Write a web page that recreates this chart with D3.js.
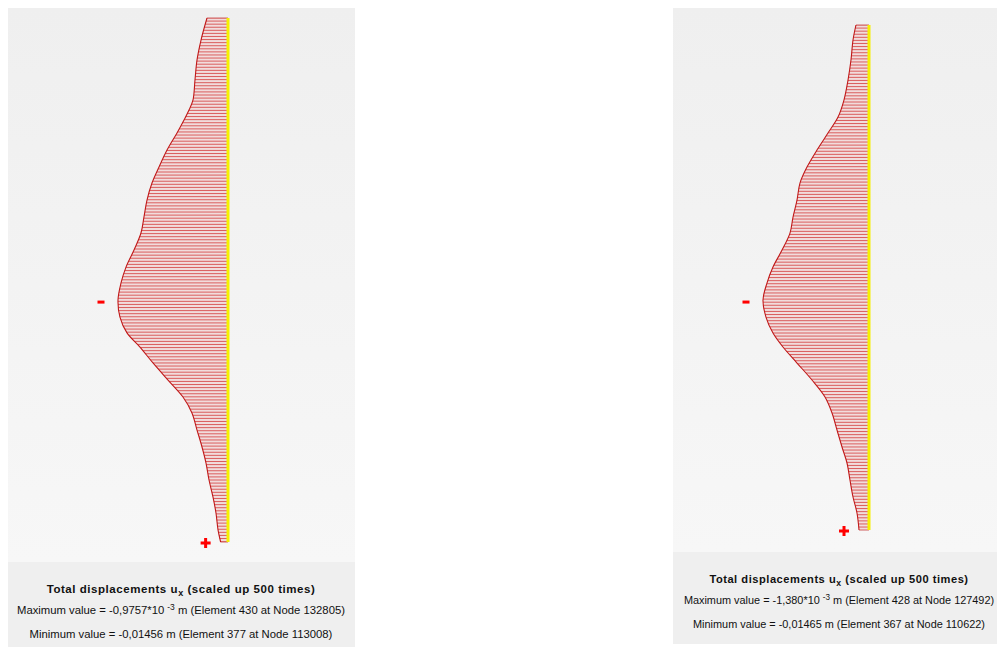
<!DOCTYPE html>
<html>
<head>
<meta charset="utf-8">
<script src="https://cdn.jsdelivr.net/npm/d3@7"></script>
<style>
  html, body { margin: 0; padding: 0; background: #ffffff; }
  svg { display: block; }
  text { font-family: "Liberation Sans", Arial, sans-serif; fill: #111; }
</style>
</head>
<body>
<svg id="chart" width="997" height="647"></svg>
<script>
// Horizontal displacement u_x along the wall (depth in m, u_x in mm), two calculation phases
const depthA = [0, 1.26, 2.40, 3.55, 4.69, 5.27, 5.84, 6.58, 7.56, 8.53, 9.45, 10.42, 11.39, 12.31,
  13.28, 14.26, 15.17, 16.15, 17.12, 18.03, 18.84, 19.75, 20.73, 21.70, 22.61, 23.59, 24.56,
  25.48, 26.45, 27.42, 28.34, 29.31, 30];
const uxA = [-2.78, -3.57, -4.10, -4.37, -4.63, -5.16, -5.82, -6.75, -8.07, -9.13, -10.06, -10.72,
  -11.12, -11.52, -12.44, -13.50, -14.16, -14.56, -14.30, -13.37, -11.65, -9.93, -7.94, -5.96,
  -4.77, -4.10, -3.44, -2.91, -2.51, -1.99, -1.59, -1.32, -0.9757];

const depthB = [0, 0.89, 2.08, 3.27, 4.46, 5.47, 6.42, 7.43, 8.44, 9.39, 10.40, 11.41, 12.36, 13.37,
  14.38, 15.33, 16.34, 17.35, 18.30, 19.13, 20.08, 21.09, 22.10, 23.05, 24.06, 25.07, 26.02,
  27.03, 28.04, 28.99, 30];
const uxB = [-1.80, -2.21, -2.49, -2.90, -3.46, -4.28, -5.67, -7.19, -8.57, -9.54, -9.95, -10.50,
  -10.92, -12.02, -13.27, -14.10, -14.65, -14.24, -13.27, -11.89, -9.95, -7.88, -6.08, -5.11,
  -4.42, -3.73, -3.04, -2.63, -2.21, -1.66, -1.380];

// Captions
const titleMain = "Total displacements u";
const titleSub = "x";
const titleTail = " (scaled up 500 times)";
const maxTextA = ["Maximum value = -0,9757*10", "-3", " m (Element 430 at Node 132805)"];
const minTextA = "Minimum value = -0,01456 m (Element 377 at Node 113008)";
const maxTextB = ["Maximum value = -1,380*10", "-3", " m (Element 428 at Node 127492)"];
const minTextB = "Minimum value = -0,01465 m (Element 367 at Node 110622)";

const svg = d3.select("#chart");
const defs = svg.append("defs");

const grad = defs.append("linearGradient").attr("id", "plotBg")
  .attr("x1", 0).attr("y1", 0).attr("x2", 0).attr("y2", 1);
grad.append("stop").attr("offset", "0%").attr("stop-color", "#efefef");
grad.append("stop").attr("offset", "100%").attr("stop-color", "#f7f7f7");

const panels = [
  { id: "A", depth: depthA, ux: uxA, maxText: maxTextA, minText: minTextA,
    box: { x: 8, y: 8, w: 347, plotH: 554, textH: 85 }, textX: 181,
    yRange: [18, 542], xRange: [118, 228], fs: 11.3, k: 1,
    titleY: 593, line2Y: 614, line3Y: 638 },
  { id: "B", depth: depthB, ux: uxB, maxText: maxTextB, minText: minTextB,
    box: { x: 673, y: 8, w: 324, plotH: 544, textH: 92 }, textX: 839,
    yRange: [25, 530], xRange: [763, 869], fs: 10.9, k: 0.964,
    titleY: 583, line2Y: 604, line3Y: 628 }
];

panels.forEach(p => {
  const g = svg.append("g");
  const b = p.box;
  const cx = p.textX;

  // panel background: plot area and caption area
  g.append("rect").attr("x", b.x).attr("y", b.y).attr("width", b.w).attr("height", b.plotH)
    .attr("fill", "url(#plotBg)");
  g.append("rect").attr("x", b.x).attr("y", b.y + b.plotH).attr("width", b.w).attr("height", b.textH)
    .attr("fill", "#efefef");

  const minU = d3.min(p.ux);
  const y = d3.scaleLinear().domain([0, d3.max(p.depth)]).range(p.yRange);
  const x = d3.scaleLinear().domain([minU, 0]).range(p.xRange);

  const pts = p.depth.map((d, i) => [d, p.ux[i]]);

  const area = d3.area()
    .y(d => y(d[0]))
    .x0(() => x(0))
    .x1(d => x(d[1]))
    .curve(d3.curveCatmullRom.alpha(0.5));
  const line = d3.line()
    .y(d => y(d[0]))
    .x(d => x(d[1]))
    .curve(d3.curveCatmullRom.alpha(0.5));

  const clipId = "clip" + p.id;
  defs.append("clipPath").attr("id", clipId)
    .append("path").attr("d", area(pts));

  // faint tint inside the deformed shape
  g.append("path").attr("d", area(pts)).attr("fill", "#f1dcdc");

  // hatching: horizontal lines from the wall to the deformed shape
  const y0 = y(0), y1 = y(d3.max(p.depth));
  const pitch = 3.08;
  const rows = d3.range(y0, y1 + 0.01, pitch);
  g.append("g").attr("clip-path", `url(#${clipId})`)
    .selectAll("line").data(rows).join("line")
    .attr("x1", x(minU) - 4).attr("x2", x(0))
    .attr("y1", d => d).attr("y2", d => d)
    .attr("stroke", "#d02828").attr("stroke-width", 1).attr("stroke-opacity", 0.7);

  // closing lines at top and bottom
  [pts[0], pts[pts.length - 1]].forEach(d => {
    g.append("line").attr("x1", x(d[1])).attr("x2", x(0))
      .attr("y1", y(d[0])).attr("y2", y(d[0]))
      .attr("stroke", "#d06060").attr("stroke-width", 1);
  });

  // deformed shape outline
  g.append("path").attr("d", line(pts)).attr("fill", "none")
    .attr("stroke", "#c01818").attr("stroke-width", 1.1);

  // wall axis
  g.append("line").attr("x1", x(0)).attr("x2", x(0))
    .attr("y1", y0).attr("y2", y1)
    .attr("stroke", "#f6f000").attr("stroke-width", 3);

  // minimum ("-") and maximum ("+") markers
  const iMin = p.ux.indexOf(minU);
  const mx = x(minU) - 17, my = y(p.depth[iMin]) + 2;
  g.append("rect").attr("x", mx - 3.5).attr("y", my - 1.5).attr("width", 7).attr("height", 3)
    .attr("fill", "#ff0000");
  const last = pts[pts.length - 1];
  const px = x(last[1]) - 15, py = y(last[0]) + 1;
  g.append("rect").attr("x", px - 5).attr("y", py - 1.5).attr("width", 10).attr("height", 3)
    .attr("fill", "#ff0000");
  g.append("rect").attr("x", px - 1.5).attr("y", py - 5).attr("width", 3).attr("height", 10)
    .attr("fill", "#ff0000");

  // captions
  const t = g.append("text").attr("x", cx).attr("y", p.titleY)
    .attr("text-anchor", "middle").attr("font-weight", "bold").attr("font-size", p.fs + 0.2)
    .attr("letter-spacing", 0.55 * p.k);
  t.append("tspan").text(titleMain);
  t.append("tspan").attr("dy", 3).attr("font-size", p.fs * 0.8).text(titleSub);
  t.append("tspan").attr("dy", -3).text(titleTail);

  const t2 = g.append("text").attr("x", cx).attr("y", p.line2Y)
    .attr("text-anchor", "middle").attr("font-size", p.fs);
  t2.append("tspan").text(p.maxText[0]);
  t2.append("tspan").attr("dx", 3).attr("dy", -4).attr("font-size", p.fs * 0.75).text(p.maxText[1]);
  t2.append("tspan").attr("dy", 4).text(p.maxText[2]);

  g.append("text").attr("x", cx).attr("y", p.line3Y)
    .attr("text-anchor", "middle").attr("font-size", p.fs).text(p.minText);
});
</script>
</body>
</html>
